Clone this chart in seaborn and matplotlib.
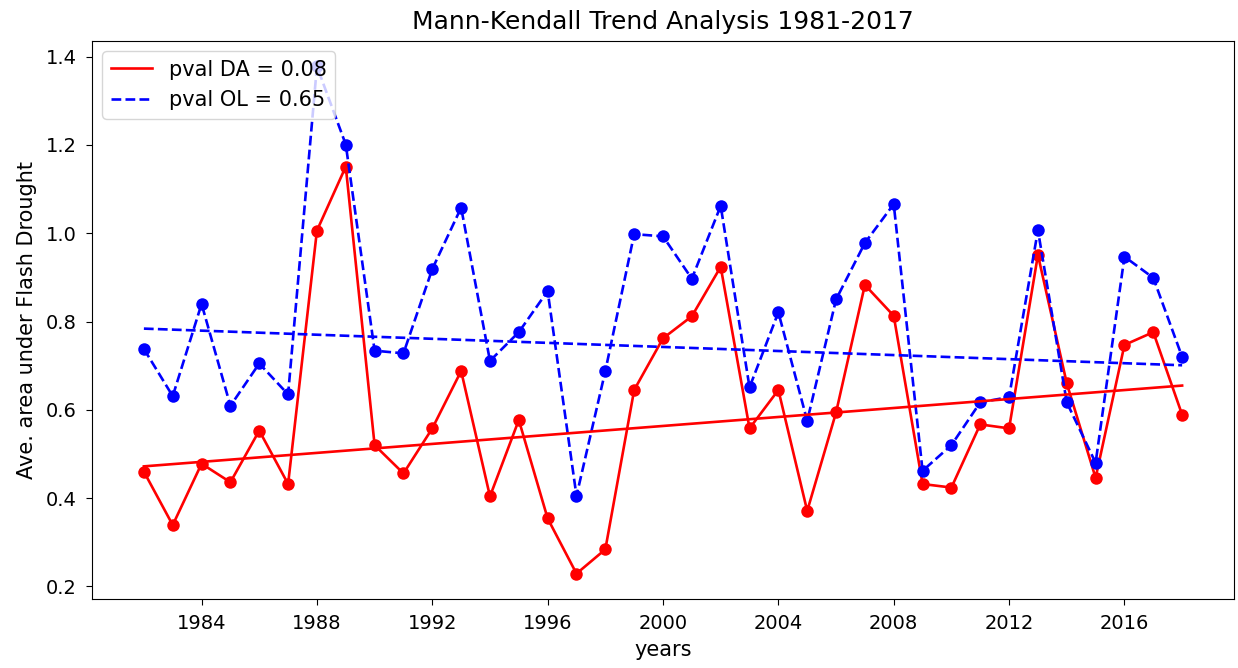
import numpy as np
import matplotlib
matplotlib.use("Agg")
import matplotlib.pyplot as plt
import seaborn as sns
import pandas as pd

YEARS = list(range(1982, 2019))

# average area under flash drought
DA_VALUES = [0.460, 0.339, 0.478, 0.436, 0.553, 0.432, 1.006, 1.151, 0.520, 0.456,
             0.558, 0.688, 0.404, 0.577, 0.354, 0.229, 0.284, 0.645, 0.762, 0.812,
             0.924, 0.558, 0.645, 0.371, 0.594, 0.883, 0.813, 0.432, 0.424, 0.567,
             0.558, 0.951, 0.660, 0.446, 0.747, 0.776, 0.589]
OL_VALUES = [0.738, 0.631, 0.840, 0.609, 0.705, 0.635, 1.378, 1.201, 0.734, 0.728,
             0.919, 1.058, 0.711, 0.776, 0.869, 0.405, 0.688, 0.998, 0.993, 0.897,
             1.062, 0.651, 0.821, 0.575, 0.850, 0.978, 1.066, 0.462, 0.520, 0.617,
             0.629, 1.007, 0.617, 0.480, 0.947, 0.899, 0.720]

# Sen's slope trend lines (start / end values)
TREND_YEARS = [1982, 2018]
DA_TREND = [0.472, 0.655]
OL_TREND = [0.784, 0.701]

DA_LABEL = "pval DA = 0.08"
OL_LABEL = "pval OL = 0.65"

df = pd.DataFrame({"year": YEARS, "DA": DA_VALUES, "OL": OL_VALUES})
trend = pd.DataFrame({"year": TREND_YEARS, "DA": DA_TREND, "OL": OL_TREND})

fig, ax = plt.subplots(figsize=(12.38, 6.68), dpi=100)
fig.subplots_adjust(left=0.0743, right=0.9968, top=0.9386, bottom=0.1033)

sns.lineplot(data=df, x="year", y="DA", ax=ax, color="r", marker="o",
             markersize=9, markeredgecolor="r", markeredgewidth=0, linewidth=1.9)
sns.lineplot(data=df, x="year", y="OL", ax=ax, color="b", marker="o",
             markersize=9, markeredgecolor="b", markeredgewidth=0, linewidth=1.9,
             linestyle="--")
sns.lineplot(data=trend, x="year", y="DA", ax=ax, color="r", linewidth=1.9,
             label=DA_LABEL)
sns.lineplot(data=trend, x="year", y="OL", ax=ax, color="b", linewidth=1.9,
             linestyle="--", label=OL_LABEL)

ax.set_title("Mann-Kendall Trend Analysis 1981-2017", fontsize=18, pad=9)
ax.set_xlabel("years", fontsize=15, labelpad=5)
ax.set_ylabel("Ave. area under Flash Drought", fontsize=15, labelpad=6)
ax.tick_params(labelsize=14, length=4.5, pad=6.5)
ax.set_xticks(range(1984, 2017, 4))
ax.legend(loc="upper left", fontsize=15)

fig.savefig("out.png", dpi=100)
